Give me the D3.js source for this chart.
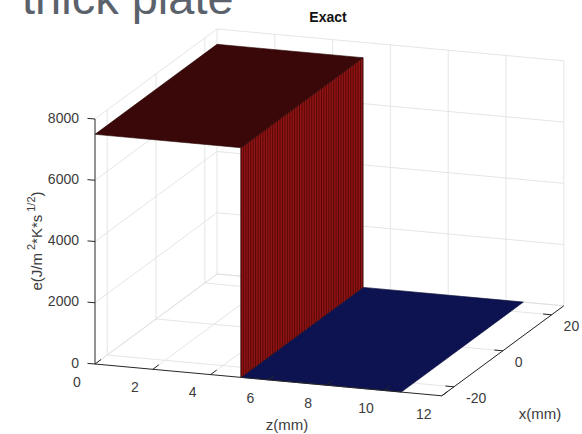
<html><head>
<script src="https://d3js.org/d3.v7.min.js"></script>
<style>
  body { margin: 0; background: #fff; }
  text { font-family: "Liberation Sans", Arial, sans-serif; }
</style>
</head>
<body>
<svg id="plot" width="582" height="434"></svg>
<script>

// axis limits and ticks
const zLimits = [0, 12];
const xLimits = [-25, 25];
const eLimits = [0, 8000];
const zTicks = [0, 2, 4, 6, 8, 10, 12];
const xTicks = [-20, 0, 20];
const eTicks = [0, 2000, 4000, 6000, 8000];

// exact solution: step in effusivity along z (mm)
const surfZ = [0, 5.05, 10.6];   // start, jump, end of the plate
const surfE = [7500, 0];         // value before / after the jump
const meshStep = 1;              // mesh spacing in x (mm), only used for the stripes

const svg = d3.select("#plot");

// 3d -> screen: origin is the corner (z=0, x=xmin, e=0), and one vector per axis
const origin = [95, 364];
const U = [346.8, 31.8];
const V = [122, -90];
const W = [0, -245];
const zScale = d3.scaleLinear().domain(zLimits).range([0, 1]);
const xScale = d3.scaleLinear().domain(xLimits).range([0, 1]);
const eScale = d3.scaleLinear().domain(eLimits).range([0, 1]);

function proj(z, x, e) {
  let a = zScale(z), b = xScale(x), c = eScale(e);
  return [origin[0] + a*U[0] + b*V[0] + c*W[0],
          origin[1] + a*U[1] + b*V[1] + c*W[1]];
}

const line = d3.line();
function seg(g, p1, p2, stroke, width) {
  g.append("path").attr("d", line([p1, p2]))
   .attr("stroke", stroke).attr("stroke-width", width).attr("fill", "none");
}

// 1. grid on the three back planes
const grid = svg.append("g");
const gridColor = "#dedede";
zTicks.forEach(z => {
  seg(grid, proj(z, xLimits[0], 0), proj(z, xLimits[1], 0), gridColor, 0.8);   // floor
  seg(grid, proj(z, xLimits[1], 0), proj(z, xLimits[1], eLimits[1]), gridColor, 0.8); // back wall
});
xTicks.forEach(x => {
  seg(grid, proj(zLimits[0], x, 0), proj(zLimits[1], x, 0), gridColor, 0.8);
  seg(grid, proj(0, x, 0), proj(0, x, eLimits[1]), gridColor, 0.8);
});
eTicks.forEach(e => {
  seg(grid, proj(0, xLimits[0], e), proj(0, xLimits[1], e), gridColor, 0.8);
  seg(grid, proj(0, xLimits[1], e), proj(zLimits[1], xLimits[1], e), gridColor, 0.8);
});
seg(grid, proj(0, xLimits[1], 0), proj(zLimits[1], xLimits[1], 0), gridColor, 0.8);

// 2. the surface: low floor, wall at the jump, high top
const surf = svg.append("g");
const poly = pts => line(pts.map(p => proj(p[0], p[1], p[2]))) + "Z";
const zj = surfZ[1];

surf.append("path")
  .attr("d", poly([[zj, xLimits[0], surfE[1]], [surfZ[2], xLimits[0], surfE[1]],
                   [surfZ[2], xLimits[1], surfE[1]], [zj, xLimits[1], surfE[1]]]))
  .attr("fill", "#0d1250").attr("stroke", "#0a0d3a").attr("stroke-width", 0.6);

surf.append("path")
  .attr("d", poly([[zj, xLimits[0], surfE[0]], [zj, xLimits[1], surfE[0]],
                   [zj, xLimits[1], surfE[1]], [zj, xLimits[0], surfE[1]]]))
  .attr("fill", "#931414").attr("stroke", "#3a0606").attr("stroke-width", 0.6);

// mesh stripes on the wall
d3.range(xLimits[0], xLimits[1] + 0.001, meshStep).forEach(x => {
  seg(surf, proj(zj, x, surfE[0]), proj(zj, x, surfE[1]), "#3a0505", 0.7);
});

surf.append("path")
  .attr("d", poly([[surfZ[0], xLimits[0], surfE[0]], [zj, xLimits[0], surfE[0]],
                   [zj, xLimits[1], surfE[0]], [surfZ[0], xLimits[1], surfE[0]]]))
  .attr("fill", "#3a0808").attr("stroke", "#2a0505").attr("stroke-width", 0.6);

// 3. axis lines, ticks and labels
const ax = svg.append("g");
const axisColor = "#262626";
seg(ax, proj(0, xLimits[0], 0), proj(0, xLimits[0], eLimits[1]), axisColor, 1);
seg(ax, proj(0, xLimits[0], 0), proj(zLimits[1], xLimits[0], 0), axisColor, 1);
seg(ax, proj(zLimits[1], xLimits[0], 0), proj(zLimits[1], xLimits[1], 0), axisColor, 1);

const tickFont = 14, tickColor = "#3c3c3c";

zTicks.forEach(z => {
  let p = proj(z, xLimits[0], 0);
  seg(ax, p, [p[0] + 6.1, p[1] - 4.5], axisColor, 1);
  ax.append("text").attr("x", p[0] - 18).attr("y", p[1] + 19)
    .attr("text-anchor", "middle").attr("dominant-baseline", "middle")
    .attr("font-size", tickFont).attr("fill", tickColor).text(z);
});
xTicks.forEach(x => {
  let p = proj(zLimits[1], x, 0);
  seg(ax, p, [p[0] - 8.5, p[1] - 0.8], axisColor, 1);
  ax.append("text").attr("x", p[0] + 12).attr("y", p[1] + 12)
    .attr("text-anchor", "start").attr("dominant-baseline", "middle")
    .attr("font-size", tickFont).attr("fill", tickColor).text(x);
});
eTicks.forEach(e => {
  let p = proj(0, xLimits[0], e);
  seg(ax, p, [p[0] - 7.5, p[1] - 0.6], axisColor, 1);
  ax.append("text").attr("x", p[0] - 16).attr("y", p[1])
    .attr("text-anchor", "end").attr("dominant-baseline", "middle")
    .attr("font-size", tickFont).attr("fill", tickColor).text(e);
});

// axis titles
ax.append("text").attr("x", 287).attr("y", 430).attr("text-anchor", "middle")
  .attr("font-size", 15).attr("fill", tickColor).text("z(mm)");
ax.append("text").attr("x", 540).attr("y", 419).attr("text-anchor", "middle")
  .attr("font-size", 15).attr("fill", tickColor).text("x(mm)");

const eLab = ax.append("text").attr("transform", "translate(42,241) rotate(-90)")
  .attr("text-anchor", "middle").attr("font-size", 15).attr("fill", tickColor);
eLab.append("tspan").text("e(J/m");
eLab.append("tspan").attr("dx", 3).attr("dy", -7).attr("font-size", 11).text("2");
eLab.append("tspan").attr("dy", 7).text("*K*s");
eLab.append("tspan").attr("dx", 3).attr("dy", -7).attr("font-size", 11).text("1/2");
eLab.append("tspan").attr("dy", 7).text(")");

// plot title and the slide heading behind it
svg.append("text").attr("x", 328).attr("y", 22).attr("text-anchor", "middle")
  .attr("font-size", 14).attr("font-weight", "bold").attr("fill", "#111").text("Exact");
svg.append("text").attr("x", 22).attr("y", 13.5)
  .attr("font-size", 47).attr("fill", "#5b626c").text("thick plate");

</script>
</body>
</html>
